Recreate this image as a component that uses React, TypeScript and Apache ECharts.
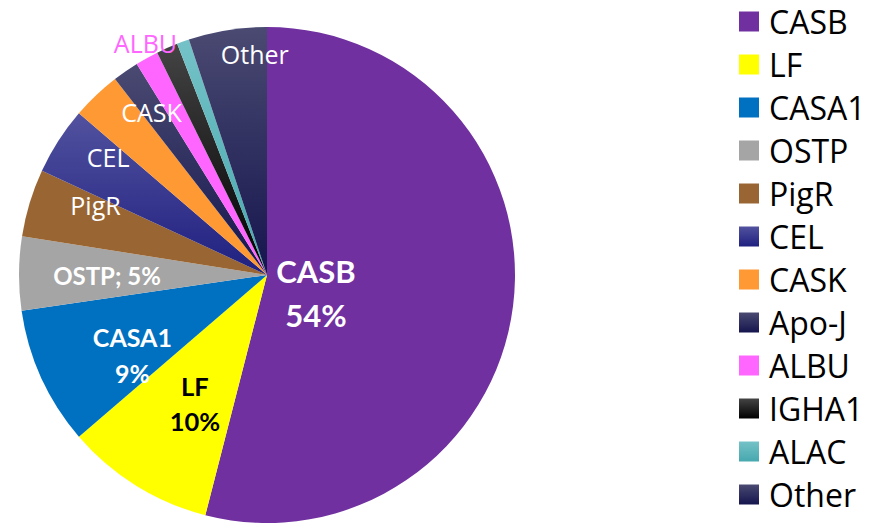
import React, { useEffect, useRef } from "react";
import * as echarts from "echarts";

const categories = ["CASB", "LF", "CASA1", "OSTP", "PigR", "CEL", "CASK", "Apo-J", "ALBU", "IGHA1", "ALAC", "Other"];
const values = [54.0, 9.7, 9.0, 4.8, 4.4, 4.4, 3.2, 1.7, 1.5, 1.4, 0.8, 5.1];

const BOLD_FONT = "Lato, sans-serif";
const REG_FONT = "'Open Sans', sans-serif";

const grad = (a: string, b: string) =>
  new echarts.graphic.LinearGradient(0, 0, 0, 1, [
    { offset: 0, color: a },
    { offset: 1, color: b },
  ]);

const colors: Record<string, any> = {
  CASB: "#7030A0",
  LF: "#FFFF00",
  CASA1: "#0070C0",
  OSTP: "#A5A5A5",
  PigR: "#996633",
  CEL: grad("#52529F", "#1F1F80"),
  CASK: "#FF9933",
  "Apo-J": grad("#4A4A72", "#15154E"),
  ALBU: "#FF66FF",
  IGHA1: grad("#444444", "#000000"),
  ALAC: grad("#74C2C7", "#46A8AE"),
  Other: grad("#4A4A72", "#15154E"),
};

// label styling per slice (formatter, font, offsets from the default inside anchor)
const labelStyle: Record<string, any> = {
  CASB: { formatter: "{b}\n{d}%", color: "#fff", fontWeight: "bold", fontFamily: BOLD_FONT, fontSize: 31, lineHeight: 44, dx: -77, dy: 2 },
  LF: { formatter: "{b}\n{d}%", color: "#000", fontWeight: "bold", fontFamily: BOLD_FONT, fontSize: 25.5, lineHeight: 35, dx: -5, dy: 21 },
  CASA1: { formatter: "{b}\n{d}%", color: "#fff", fontWeight: "bold", fontFamily: BOLD_FONT, fontSize: 25, lineHeight: 36, dx: -19, dy: 27 },
  OSTP: { formatter: "{b}; {d}%", color: "#fff", fontWeight: "bold", fontFamily: BOLD_FONT, fontSize: 24, lineHeight: 30, dx: -33, dy: 1 },
  PigR: { formatter: "{b}", color: "#fff", fontWeight: "normal", fontFamily: REG_FONT, fontSize: 25, lineHeight: 30, dx: -50, dy: -33 },
  CEL: { formatter: "{b}", color: "#fff", fontWeight: "normal", fontFamily: REG_FONT, fontSize: 25, lineHeight: 30, dx: -52, dy: -49 },
  CASK: { formatter: "{b}", color: "#fff", fontWeight: "normal", fontFamily: REG_FONT, fontSize: 25, lineHeight: 30, dx: -28, dy: -71 },
  ALBU: { formatter: "{b}", color: "#FF66FF", fontWeight: "normal", fontFamily: REG_FONT, fontSize: 25, lineHeight: 30, dx: -60, dy: -121 },
  Other: { formatter: "{b}", color: "#fff", fontWeight: "normal", fontFamily: REG_FONT, fontSize: 25, lineHeight: 30, dx: 8, dy: -96 },
};

export default function App() {
  const ref = useRef<HTMLDivElement>(null);
  useEffect(() => {
    if (!ref.current) return;
    const chart = echarts.init(ref.current, undefined, { renderer: "svg" });
    const data = categories.map((name, i) => {
      const ls = labelStyle[name];
      return {
        name,
        value: values[i],
        itemStyle: { color: colors[name] },
        label: ls
          ? {
              show: true,
              position: "inside",
              formatter: ls.formatter,
              color: ls.color,
              fontWeight: ls.fontWeight,
              fontSize: ls.fontSize,
              lineHeight: ls.lineHeight,
              fontFamily: ls.fontFamily,
              align: "center",
            }
          : { show: false },
      };
    });
    chart.setOption({
      animation: false,
      backgroundColor: "#ffffff",
      legend: {
        orient: "vertical",
        left: 739,
        top: 5,
        padding: 0,
        itemWidth: 20,
        itemHeight: 20,
        itemGap: 10,
        icon: "rect",
        data: categories,
        textStyle: {
          fontFamily: REG_FONT,
          fontSize: 32,
          lineHeight: 33,
          color: "#000",
          padding: [0, 0, 0, 5],
        },
      },
      series: [
        {
          type: "pie",
          center: [267, 275],
          radius: [0, 248],
          startAngle: 90,
          clockwise: true,
          percentPrecision: 0,
          avoidLabelOverlap: false,
          itemStyle: { borderWidth: 0 },
          emphasis: { disabled: true },
          labelLine: { show: false },
          labelLayout: (params: any) => {
            const ls = labelStyle[categories[params.dataIndex]];
            if (!ls) return {};
            return { dx: ls.dx, dy: ls.dy };
          },
          data,
        },
      ],
    });
    return () => chart.dispose();
  }, []);
  return (
    <div
      ref={ref}
      style={{ position: "fixed", left: 0, top: 0, width: 874, height: 526 }}
    />
  );
}
